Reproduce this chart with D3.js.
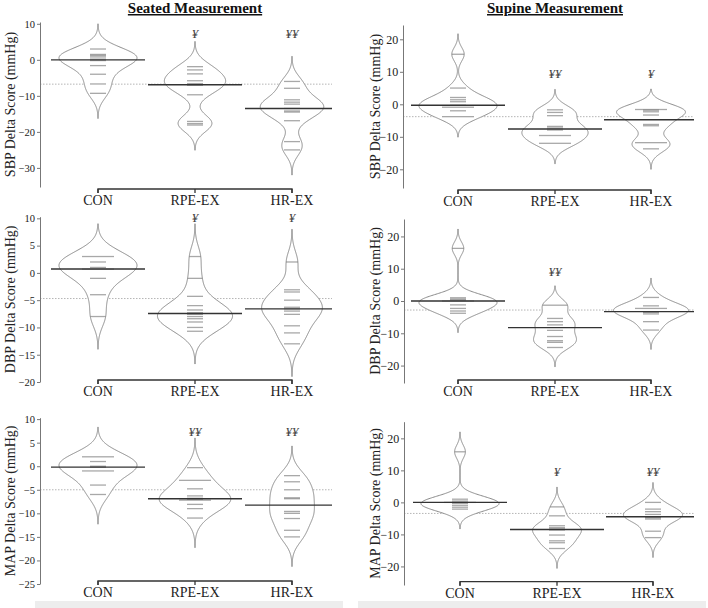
<!DOCTYPE html>
<html><head><meta charset="utf-8">
<script src="https://cdn.jsdelivr.net/npm/d3@7"></script>
<style>body{margin:0;background:#fff}svg{display:block}</style>
</head><body>
<script>
// ---------------- DATA ----------------
const groups = ["CON", "RPE-EX", "HR-EX"];

// individual delta scores (mmHg), one array per group
const seatedSBP_CON = [3, 1.5, 1.2, 0.8, 0.2, -0.2, -1.6, -4, -6.7, -9.3];
const seatedSBP_RPE = [-1.9, -2.8, -3.9, -5.8, -6.6, -6.9, -7, -9.7, -17.1, -17.7, -18.1];
const seatedSBP_HR  = [-6, -7.9, -11.1, -11.75, -12.3, -13.5, -14.2, -14.5, -16.9, -22.7, -25];

const seatedDBP_CON = [3, 3, 2, 1, 0.7, 0.7, -1, -4, -8];
const seatedDBP_RPE = [3, -1, -4.3, -6, -6.8, -7.3, -7.6, -8, -8.4, -9, -10, -10.7];
const seatedDBP_HR  = [2, -3.1, -3.5, -5, -6.3, -6.6, -7, -7.6, -9.7, -11, -13];

const seatedMAP_CON = [2, 2, 1, 0, -0.2, -1, -1, -4, -6];
const seatedMAP_RPE = [-0.3, -3, -3, -4.8, -6.3, -6.8, -7, -7.2, -7.2, -8.1, -9, -11];
const seatedMAP_HR  = [-2, -3.3, -5, -6.7, -6.9, -9.6, -10, -11.1, -13.6, -15];

const supineSBP_CON = [15.4, 5, 2.1, 1.4, 0.8, -0.3, -0.9, -0.9, -2, -3.8, -3.8];
const supineSBP_RPE = [-1.7, -2.5, -3.5, -6.8, -7.3, -7.9, -9.6, -9.6, -12, -12];
const supineSBP_HR  = [-1.6, -1.6, -1.8, -2.3, -3.3, -6.2, -6.6, -11.8, -11.8, -13.7];

const supineDBP_CON = [16.3, 1, 0.6, 0.3, 0, 0, -1.2, -2.3, -3.1, -3.8];
const supineDBP_RPE = [-1.3, -1.3, -5.4, -6.4, -7.4, -9.1, -11, -12.3, -12.8, -14.4];
const supineDBP_HR  = [1.1, -1.5, -2.3, -2.3, -3.3, -3.5, -4, -6.4, -9];

const supineMAP_CON = [15.8, 1, 0.4, 0, 0, -0.3, -0.9, -1.5, -2.1];
const supineMAP_RPE = [-1.4, -4.2, -7.3, -7.9, -8.3, -8.6, -10.2, -12, -12.6, -14.4];
const supineMAP_HR  = [0, -2.1, -2.9, -3.75, -4.5, -4.8, -5.2, -9, -11];

// overall reference line (dotted) per panel
const overallSeated = [-6.75, -4.7, -5.0];
const overallSupine = [-3.8, -2.8, -3.45];

// significance markers per group
const marksSeatedSBP = ["", "¥", "¥¥"];
const marksSeatedDBP = ["", "¥", "¥"];
const marksSeatedMAP = ["", "¥¥", "¥¥"];
const marksSupineSBP = ["", "¥¥", "¥"];
const marksSupineDBP = ["", "¥¥", ""];
const marksSupineMAP = ["", "¥", "¥¥"];

// tick labels
const ticksSeatedSBP = [10, 0, -10, -20, -30];
const ticksSeatedDBP = [10, 5, 0, -5, -10, -15, -20];
const ticksSeatedMAP = [10, 5, 0, -5, -10, -15, -20, -25];
const ticksSupine = [20, 10, 0, -10, -20];

const titles = ["Seated Measurement", "Supine Measurement"];
const yLabels = ["SBP Delta Score (mmHg)", "DBP Delta Score (mmHg)", "MAP Delta Score (mmHg)"];

// ---------------- LAYOUT ----------------
const serif = "'Liberation Serif','Times New Roman',Times,serif";
const W = 708, H = 608;
const svg = d3.select("body").append("svg").attr("width", W).attr("height", H);

const panels = [
  {data:[seatedSBP_CON, seatedSBP_RPE, seatedSBP_HR], ticks:ticksSeatedSBP, overall:overallSeated[0], marks:marksSeatedSBP, label:yLabels[0],
   axisX:40, labelX:10, centers:[98,195,292], right:332, domain:[-35.3,10.5], range:[187,22], bracketY:189, markY:38, bw:2.33, tickFont:10.5},
  {data:[seatedDBP_CON, seatedDBP_RPE, seatedDBP_HR], ticks:ticksSeatedDBP, overall:overallSeated[1], marks:marksSeatedDBP, label:yLabels[1],
   axisX:40, labelX:10, centers:[98,195,292], right:332, domain:[-20,10.3], range:[382,216.7], bracketY:380, markY:222, bw:2.0, tickFont:10.5},
  {data:[seatedMAP_CON, seatedMAP_RPE, seatedMAP_HR], ticks:ticksSeatedMAP, overall:overallSeated[2], marks:marksSeatedMAP, label:yLabels[2],
   axisX:40, labelX:10, centers:[98,195,292], right:332, domain:[-25,10.3], range:[584,417.7], bracketY:581, markY:436, bw:2.1, tickFont:10.5},
  {data:[supineSBP_CON, supineSBP_RPE, supineSBP_HR], ticks:ticksSupine, overall:overallSupine[0], marks:marksSupineSBP, label:yLabels[0],
   axisX:403, labelX:375, centers:[458,555,651], right:694, domain:[-25.75,24.4], range:[188,25], bracketY:190, markY:78, bw:2.1, tickFont:12},
  {data:[supineDBP_CON, supineDBP_RPE, supineDBP_HR], ticks:ticksSupine, overall:overallSupine[1], marks:marksSupineDBP, label:yLabels[1],
   axisX:404, labelX:375, centers:[458,555,651], right:694, domain:[-25.4,25.4], range:[383,219], bracketY:380, markY:276, bw:2.0, tickFont:12},
  {data:[supineMAP_CON, supineMAP_RPE, supineMAP_HR], ticks:ticksSupine, overall:overallSupine[2], marks:marksSupineMAP, label:yLabels[2],
   axisX:404, labelX:375, centers:[460,557,653], right:694, domain:[-25.8,25.2], range:[585,421.7], bracketY:581.7, markY:476, bw:2.07, tickFont:12}
];

const maxHalf = 39;     // half width of widest bean (px)
const lineLen = 16;     // bean line length per observation (px)
const avgHalf = 47;     // half length of group average line (px)

function kde(values, bw, lo, hi, n) {
  const pts = d3.range(n + 1).map(i => lo + (hi - lo) * i / n);
  return pts.map(y => {
    const d = d3.sum(values, v => Math.exp(-0.5 * ((y - v) / bw) ** 2)) / (values.length * bw * Math.sqrt(2 * Math.PI));
    return [y, d];
  });
}

panels.forEach(p => {
  const y = d3.scaleLinear().domain(p.domain).range(p.range);
  const g = svg.append("g");

  const dens = p.data.map(vals => {
    const lo = d3.min(vals) - 3 * p.bw, hi = d3.max(vals) + 3 * p.bw;
    return kde(vals, p.bw, lo, hi, 240);
  });
  const maxD = d3.max(dens, d => d3.max(d, e => e[1]));
  const wScale = d3.scaleLinear().domain([0, maxD]).range([0, maxHalf]);

  // overall dotted line
  g.append("line").attr("x1", p.axisX).attr("x2", p.right)
    .attr("y1", y(p.overall)).attr("y2", y(p.overall))
    .attr("stroke", "#b5b5b5").attr("stroke-width", 1).attr("stroke-dasharray", "1.5,1.5");

  p.data.forEach((vals, i) => {
    const cx = p.centers[i];
    const area = d3.area()
      .x0(d => cx - wScale(d[1])).x1(d => cx + wScale(d[1])).y(d => y(d[0]))
      .curve(d3.curveLinear);
    g.append("path").datum(dens[i]).attr("d", area)
      .attr("fill", "#fff").attr("stroke", "#8a8a8a").attr("stroke-width", 1);

    // bean lines (length grows with duplicate count, clipped to bean width)
    const counts = d3.rollups(vals, v => v.length, v => v);
    counts.forEach(([v, c]) => {
      const dAt = d3.sum(vals, u => Math.exp(-0.5 * ((v - u) / p.bw) ** 2)) / (vals.length * p.bw * Math.sqrt(2 * Math.PI));
      const half = Math.min(lineLen * c / 2, wScale(dAt));
      g.append("line").attr("x1", cx - half).attr("x2", cx + half)
        .attr("y1", y(v)).attr("y2", y(v))
        .attr("stroke", "#6e6e6e").attr("stroke-opacity", 0.6).attr("stroke-width", 1.3);
    });

    // group average line (median)
    const med = d3.median(vals);
    g.append("line").attr("x1", cx - avgHalf).attr("x2", Math.min(cx + avgHalf, p.right))
      .attr("y1", y(med)).attr("y2", y(med))
      .attr("stroke", "#333").attr("stroke-width", 1.4);

    // significance marks
    if (p.marks[i]) {
      g.append("text").attr("x", cx).attr("y", p.markY).attr("text-anchor", "middle")
        .attr("font-family", serif).attr("font-size", 13).attr("font-style", "italic")
        .attr("fill", "#444").text(p.marks[i]);
    }
  });

  // y axis
  const ax = g.append("g").attr("transform", `translate(${p.axisX},0)`)
    .call(d3.axisLeft(y).tickValues(p.ticks).tickSize(3).tickSizeOuter(0).tickFormat(d3.format("d")));
  ax.select(".domain").attr("stroke", "#777");
  ax.selectAll(".tick line").attr("stroke", "#777");
  ax.selectAll("text").attr("font-family", serif).attr("font-size", p.tickFont).attr("fill", "#222").attr("dx", "0.1em");

  // y label
  g.append("text").attr("transform", `translate(${p.labelX},${(p.range[0] + p.range[1]) / 2}) rotate(-90)`)
    .attr("text-anchor", "middle").attr("dy", "0.35em")
    .attr("font-family", serif).attr("font-size", 14).attr("fill", "#222").text(p.label);

  // category bracket axis
  const x = d3.scaleOrdinal().domain(groups).range(p.centers);
  const xb = g.append("g").attr("transform", `translate(0,${p.bracketY})`);
  xb.append("path").attr("d", `M${p.centers[0]},${4}V0H${p.centers[2]}V4`)
    .attr("fill", "none").attr("stroke", "#333").attr("stroke-width", 1.3);
  groups.forEach(gr => {
    xb.append("line").attr("x1", x(gr)).attr("x2", x(gr)).attr("y1", 0).attr("y2", 4)
      .attr("stroke", "#333").attr("stroke-width", 1.3);
    xb.append("text").attr("x", x(gr)).attr("y", 16).attr("text-anchor", "middle")
      .attr("font-family", serif).attr("font-size", 14).attr("fill", "#222").text(gr);
  });
});

// titles
[[195, titles[0]], [555, titles[1]]].forEach(([tx, t]) => {
  svg.append("text").attr("x", tx).attr("y", 13).attr("text-anchor", "middle")
    .attr("font-family", serif).attr("font-size", 15).attr("font-weight", "bold")
    .attr("text-decoration", "underline").attr("fill", "#111").text(t);
});

// bottom grey strips
[[35, 343], [358, 706]].forEach(([a, b]) => {
  svg.append("rect").attr("x", a).attr("y", 601).attr("width", b - a).attr("height", 7).attr("fill", "#ededed");
});
</script>
</body></html>
